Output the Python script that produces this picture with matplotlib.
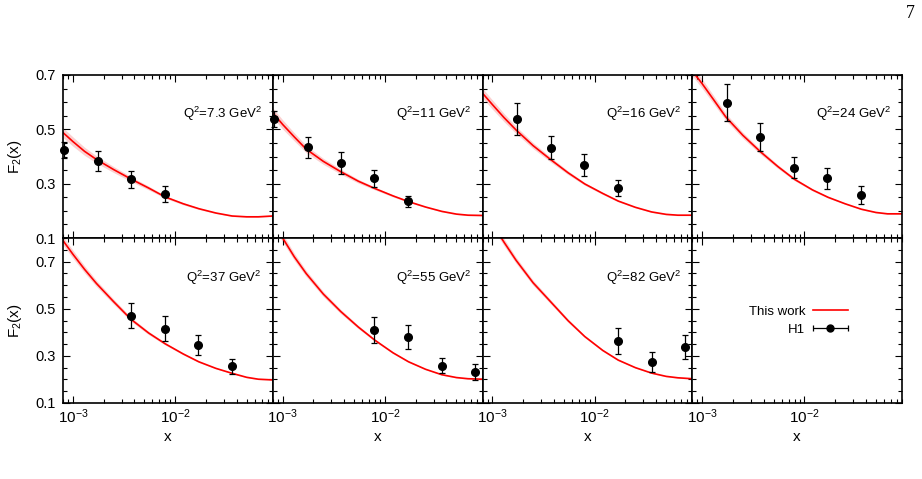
import numpy as np
import matplotlib
matplotlib.use('Agg')
import matplotlib.pyplot as plt
from matplotlib.legend_handler import HandlerErrorbar
from matplotlib.ticker import FixedLocator, MultipleLocator, LogLocator, NullFormatter
from matplotlib.lines import Line2D

plt.rcParams['font.family'] = ['Liberation Sans', 'DejaVu Sans']
plt.rcParams['mathtext.fontset'] = 'custom'
plt.rcParams['mathtext.rm'] = 'Liberation Sans'
plt.rcParams['mathtext.it'] = 'Liberation Sans:italic'
plt.rcParams['mathtext.bf'] = 'Liberation Sans:bold'

nan = np.nan

# Q^2 values (GeV^2) of the panels
q2_labels = ['7.3', '11', '16', '24', '37', '55', '82']

# H1 data x values
x_h1 = [8.2e-4, 1.75e-3, 3.7e-3, 7.9e-3, 1.68e-2, 3.6e-2, 7.6e-2]

# H1 F2 values and errors per Q^2
f2_q7p3 = [0.424, 0.384, 0.316, 0.262, nan, nan, nan]
err_q7p3 = [0.030, 0.037, 0.031, 0.030, nan, nan, nan]
f2_q11 = [0.537, 0.434, 0.375, 0.320, 0.235, nan, nan]
err_q11 = [0.030, 0.039, 0.040, 0.031, 0.021, nan, nan]
f2_q16 = [nan, 0.538, 0.432, 0.368, 0.285, nan, nan]
err_q16 = [nan, 0.058, 0.043, 0.040, 0.030, nan, nan]
f2_q24 = [nan, 0.598, 0.471, 0.359, 0.320, 0.258, nan]
err_q24 = [nan, 0.069, 0.052, 0.039, 0.038, 0.034, nan]
f2_q37 = [nan, nan, 0.470, 0.414, 0.347, 0.255, nan]
err_q37 = [nan, nan, 0.053, 0.053, 0.043, 0.032, nan]
f2_q55 = [nan, nan, nan, 0.411, 0.380, 0.259, 0.231]
err_q55 = [nan, nan, nan, 0.055, 0.050, 0.033, 0.035]
f2_q82 = [nan, nan, nan, nan, 0.364, 0.274, 0.338]
err_q82 = [nan, nan, nan, nan, 0.055, 0.043, 0.052]

# "This work" curves
x_curve = [8e-4, 1e-3, 1.3e-3, 1.7e-3, 2.5e-3, 3.7e-3, 5.5e-3, 8e-3,
           1.2e-2, 1.7e-2, 2.5e-2, 3.6e-2, 5e-2, 6.5e-2, 9e-2]
th_q7p3 = [0.488, 0.455, 0.419, 0.389, 0.352, 0.317, 0.284, 0.251,
           0.226, 0.208, 0.192, 0.181, 0.178, 0.178, 0.181]
th_q11 = [0.561, 0.518, 0.472, 0.427, 0.382, 0.344, 0.309, 0.282,
          0.255, 0.234, 0.214, 0.198, 0.188, 0.184, 0.183]
th_q16 = [0.633, 0.591, 0.543, 0.498, 0.440, 0.389, 0.340, 0.299,
          0.264, 0.236, 0.213, 0.196, 0.187, 0.184, 0.184]
th_q24 = [0.715, 0.668, 0.608, 0.546, 0.478, 0.418, 0.363, 0.316,
          0.277, 0.250, 0.226, 0.206, 0.194, 0.189, 0.189]
th_q37 = [0.789, 0.731, 0.667, 0.607, 0.530, 0.455, 0.397, 0.351,
          0.308, 0.275, 0.247, 0.226, 0.209, 0.201, 0.198]
th_q55 = [0.870, 0.800, 0.720, 0.649, 0.562, 0.488, 0.422, 0.366,
          0.313, 0.275, 0.243, 0.220, 0.208, 0.203, 0.201]
th_q82 = [0.930, 0.860, 0.782, 0.706, 0.610, 0.530, 0.449, 0.382,
          0.323, 0.282, 0.250, 0.227, 0.213, 0.207, 0.203]
# uncertainty band half-width
band_hw = [0.018, 0.017, 0.015, 0.013, 0.011, 0.009, 0.007, 0.005,
           0.004, 0.003, 0.002, 0.002, 0.002, 0.002, 0.002]

data_f2 = [f2_q7p3, f2_q11, f2_q16, f2_q24, f2_q37, f2_q55, f2_q82]
data_err = [err_q7p3, err_q11, err_q16, err_q24, err_q37, err_q55, err_q82]
theory = [th_q7p3, th_q11, th_q16, th_q24, th_q37, th_q55, th_q82]

y_ticks = [0.1, 0.3, 0.5, 0.7]

fig = plt.figure(figsize=(9.22, 4.79), dpi=100)
gs = fig.add_gridspec(2, 4, left=63/922, right=902/922, top=1-75/479,
                      bottom=1-403/479, wspace=0, hspace=0,
                      height_ratios=[163, 165])
axes = [[fig.add_subplot(gs[r, c]) for c in range(4)] for r in range(2)]

FS = 9.5
xc = np.array(x_curve)
bw = np.array(band_hw)

for r in range(2):
    for c in range(4):
        ax = axes[r][c]
        ax.set_xscale('log')
        ax.set_xlim(8e-4, 9e-2)
        ax.set_ylim(0.1, 0.7 if r == 0 else 0.8)
        ax.yaxis.set_major_locator(FixedLocator(y_ticks))
        ax.yaxis.set_minor_locator(MultipleLocator(0.05))
        ax.xaxis.set_major_locator(LogLocator(base=10))
        ax.xaxis.set_minor_locator(LogLocator(base=10, subs=np.arange(2, 10)))
        ax.xaxis.set_minor_formatter(NullFormatter())
        ax.tick_params(which='both', direction='in', top=True, right=True,
                       width=0.8)
        ax.tick_params(which='major', length=5)
        ax.tick_params(which='minor', length=2.8)
        ax.tick_params(axis='y', pad=5, labelsize=10.5)
        ax.tick_params(axis='x', pad=3, labelsize=11)
        for s in ax.spines.values():
            s.set_linewidth(1.2)
        if c != 0:
            ax.tick_params(labelleft=False)
        else:
            ax.set_ylabel(r'F$_2$(x)', fontsize=11)
            ax.yaxis.set_label_coords(-0.229, 0.5)
            ax.yaxis.label.set_va('center')
        if r == 0:
            ax.tick_params(labelbottom=False)
        else:
            ax.set_xlabel('x', fontsize=11)
            ax.xaxis.set_label_coords(0.5, -0.206)
            ax.xaxis.label.set_va('center')

        i = r * 4 + c
        if i < 7:
            th = np.array(theory[i])
            ax.fill_between(xc, th - bw, th + bw, color='#fbd0d0', lw=0,
                            zorder=1)
            ax.plot(xc, th, color='#ff0000', lw=1.2, zorder=2)
            ax.errorbar(x_h1, data_f2[i], yerr=data_err[i], fmt='o',
                        color='black', ms=5.5, capsize=2, elinewidth=0.9,
                        capthick=0.9, zorder=3, clip_on=False)
            ax.text(0.948, 0.76, r'Q$^2$=' + q2_labels[i] + r' GeV$^2$',
                    transform=ax.transAxes, ha='right', va='center',
                    fontsize=FS)

# legend in the empty panel
axl = axes[1][3]
line_h = Line2D([], [], color='#ff0000', lw=1.2)
eb_h = axl.errorbar([nan], [nan], xerr=[nan], fmt='o', color='black',
                    ms=5, capsize=2.5, elinewidth=0.9, capthick=0.9)
axl.legend([line_h, eb_h], ['This work', 'H1'], loc='center',
           bbox_to_anchor=(0.505, 0.50), frameon=False, markerfirst=False,
           fontsize=FS, handlelength=2.6, handletextpad=0.6,
           labelspacing=0.45,
           handler_map={eb_h: HandlerErrorbar(xerr_size=1.3)})

fig.text(910/922, 1-14/479, '7', ha='center', va='center', fontsize=13,
         family='Liberation Serif')

fig.savefig('out.png', dpi=100)
